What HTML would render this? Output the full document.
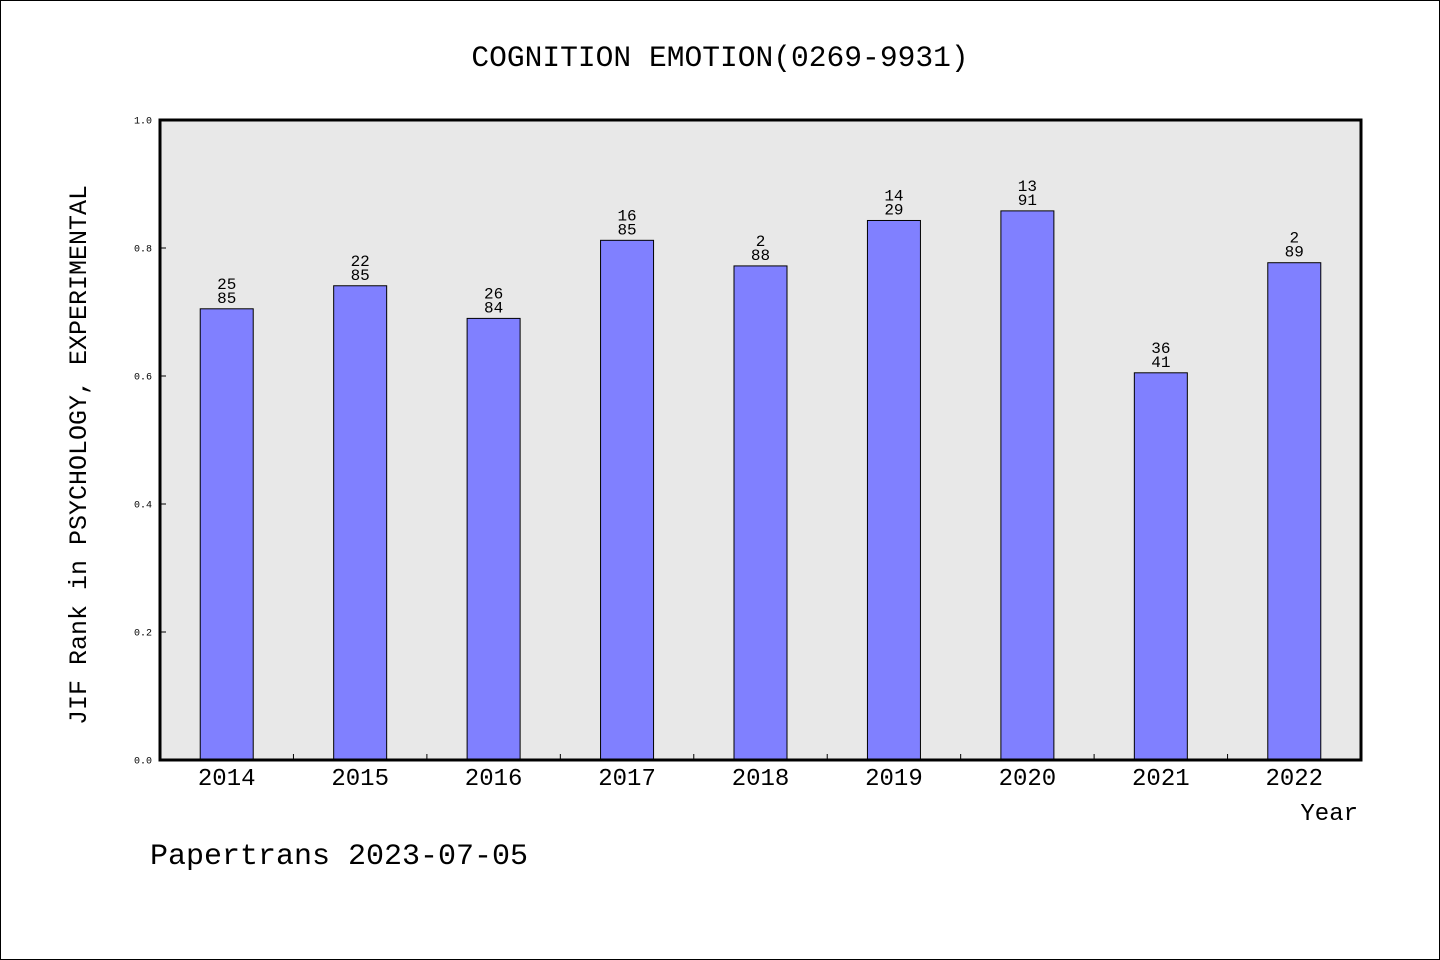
<!DOCTYPE html>
<html><head><meta charset="utf-8"><style>
html,body{margin:0;padding:0;background:#fff}
svg{display:block;font-family:"Liberation Mono","WenQuanYi Zen Hei",monospace}
</style></head><body>
<svg id="chart" width="1440" height="960">
<rect x="0.5" y="0.5" width="1439" height="959" fill="#fff" stroke="#000"/>
<text x="720" y="66" text-anchor="middle" font-size="29.6">COGNITION EMOTION(0269-9931)</text>
<rect x="160" y="120" width="1201" height="640" fill="#e8e8e8"/>
<g id="bars"></g>
<rect x="160" y="120" width="1201" height="640" fill="none" stroke="#000" stroke-width="3"/>
<text transform="translate(86,455) rotate(-90)" text-anchor="middle" font-size="25">JIF Rank in PSYCHOLOGY, EXPERIMENTAL</text>
<text x="1358" y="820" text-anchor="end" font-size="24">Year</text>
<text x="150" y="864" font-size="30">Papertrans 2023-07-05</text>
</svg>
<script>
const years=["2014","2015","2016","2017","2018","2019","2020","2021","2022"];
const values=[0.705,0.741,0.690,0.812,0.772,0.843,0.858,0.605,0.777];
const rankTop=["25","22","26","16","2","14","13","36","2"];
const rankBottom=["85","85","84","85","88","29","91","41","89"];
const yTicks=[0,0.2,0.4,0.6,0.8,1.0];
const X0=160,X1=1361,Y0=760,Y1=120;
const step=(X1-X0)/years.length;
const xc=i=>X0+step*(i+0.5);
const y=v=>Y0-(Y0-Y1)*v;
const NS="http://www.w3.org/2000/svg";
const g=document.getElementById('bars');
function mk(tag,attrs,txt){const e=document.createElementNS(NS,tag);for(const k in attrs)e.setAttribute(k,attrs[k]);if(txt!==undefined)e.textContent=txt;g.appendChild(e);return e;}
yTicks.forEach(t=>{
  const l=mk('line',{x1:X0,x2:X0+6,y1:y(t),y2:y(t),stroke:'#000'});
  
  
  const tx=mk('text',{x:X0-8,y:y(t)+3.5,'text-anchor':'end','font-size':10},t.toFixed(1));
  
  
});
for(let i=1;i<years.length;i++){
  const l=mk('line',{x1:X0+step*i,x2:X0+step*i,y1:Y0,y2:Y0-6,stroke:'#000'});
  
  
}
years.forEach((yr,i)=>{
  const bw=53,top=y(values[i]);
  const r=mk('rect',{x:xc(i)-bw/2,y:top,width:bw,height:Y0-top,fill:'#8080ff',stroke:'#000','stroke-width':1});
  
  
  const a=mk('text',{x:xc(i),y:top-20,'text-anchor':'middle','font-size':16},rankTop[i]);
  
  
  const b=mk('text',{x:xc(i),y:top-6,'text-anchor':'middle','font-size':16},rankBottom[i]);
  
  
  const xl=mk('text',{x:xc(i),y:785,'text-anchor':'middle','font-size':24},yr);
  
  
});
</script>
</body></html>
